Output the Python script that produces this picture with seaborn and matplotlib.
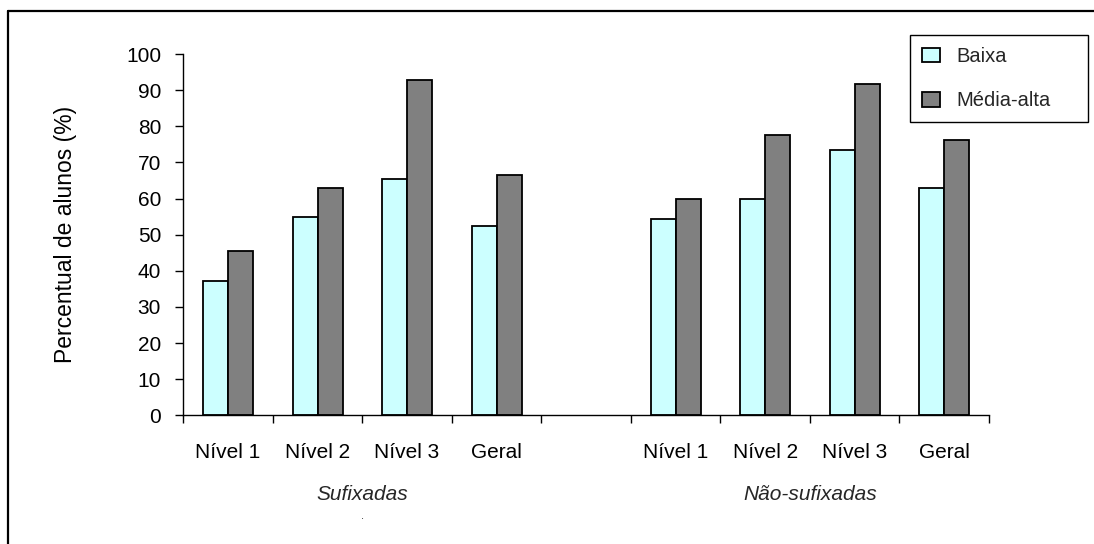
"""
Percentual de alunos por nível - palavras sufixadas e não-sufixadas.
"""

import numpy as np
import pandas as pd
import matplotlib.pyplot as plt
from matplotlib.lines import Line2D
import seaborn as sns

# --- data -------------------------------------------------------------
levels = ["Nível 1", "Nível 2", "Nível 3", "Geral"]
groups = ["Sufixadas", "Não-sufixadas"]
series = ["Baixa", "Média-alta"]

suf_baixa = [37.3, 54.9, 65.3, 52.4]
suf_media = [45.4, 62.9, 92.8, 66.6]
nao_baixa = [54.2, 60.0, 73.4, 62.9]
nao_media = [60.0, 77.7, 91.6, 76.3]

colors = {"Baixa": "#CCFFFF", "Média-alta": "#808080"}

# long-form table; one blank slot between the two groups
rows = []
for grp, b_vals, m_vals in [(groups[0], suf_baixa, suf_media),
                            (groups[1], nao_baixa, nao_media)]:
    for lvl, b, m in zip(levels, b_vals, m_vals):
        key = f"{grp}|{lvl}"
        rows.append({"slot": key, "serie": series[0], "valor": b})
        rows.append({"slot": key, "serie": series[1], "valor": m})
df = pd.DataFrame(rows)

order = [f"{groups[0]}|{l}" for l in levels] + ["gap"] + [f"{groups[1]}|{l}" for l in levels]
tick_text = levels + [""] + levels

# --- plot -------------------------------------------------------------
sns.set_theme(style="white")
plt.rcParams["font.family"] = ["Liberation Sans", "DejaVu Sans"]
plt.rcParams["font.size"] = 15

fig = plt.figure(figsize=(10.94, 5.44), dpi=100)
ax = fig.add_axes([183.3 / 1094, 1 - 415.3 / 544, (989 - 183.3) / 1094, (415.3 - 54) / 544])

sns.barplot(data=df, x="slot", y="valor", hue="serie", order=order,
            hue_order=series, palette=colors, width=0.56,
            edgecolor="black", linewidth=1.3, saturation=1, ax=ax)

ax.set_ylim(0, 100)
ax.set_xlim(-0.5, len(order) - 0.5)
ax.set_yticks(np.arange(0, 101, 10))
ax.tick_params(axis="y", direction="out", length=6, width=1, color="black",
               labelcolor="black", labelsize=15, pad=10, left=True)

# boundary ticks (major) and centred labels (minor)
ax.set_xticks(np.arange(-0.5, len(order), 1.0))
ax.set_xticklabels([])
ax.set_xticks(np.arange(len(order)), minor=True)
ax.set_xticklabels(tick_text, minor=True)
ax.tick_params(axis="x", which="major", direction="out", length=6, width=1,
               color="black", bottom=True)
ax.tick_params(axis="x", which="minor", length=0, pad=20, labelsize=15,
               labelcolor="black")

for side in ["top", "right"]:
    ax.spines[side].set_visible(False)
for side in ["left", "bottom"]:
    ax.spines[side].set_color("black")
    ax.spines[side].set_linewidth(1.0)

ax.set_xlabel("")
ax.set_ylabel("Percentual de alunos (%)", fontsize=16.5, color="black")
ax.yaxis.set_label_coords(-0.132, 0.5)

# group labels
ax.text(1.5, -0.22, groups[0], transform=ax.get_xaxis_transform(),
        ha="center", va="center", style="italic", fontsize=15)
ax.text(6.5, -0.22, groups[1], transform=ax.get_xaxis_transform(),
        ha="center", va="center", style="italic", fontsize=15)
ax.text(1.5, -0.28, ".", transform=ax.get_xaxis_transform(),
        ha="center", va="center", fontsize=8)

# legend, stretched to the width of the original box
handles, labels = ax.get_legend_handles_labels()
ax.legend(handles, labels, loc="upper left", mode="expand",
          bbox_to_anchor=(910 / 1094, 1 - 35 / 544, 178 / 1094, 0.0),
          bbox_transform=fig.transFigure,
          frameon=True, fancybox=False, edgecolor="black", framealpha=1,
          fontsize=14.5, handlelength=0.9, handleheight=0.75, handletextpad=0.8,
          labelspacing=1.25, borderpad=0.6, borderaxespad=0)
ax.get_legend().get_frame().set_linewidth(1.0)

# outer chart border (only top and left edges fall inside the image)
x0, y0 = 8 / 1094, 1 - 11 / 544
fig.add_artist(Line2D([x0, x0], [0, y0], transform=fig.transFigure, color="black", lw=1.6))
fig.add_artist(Line2D([x0, 1], [y0, y0], transform=fig.transFigure, color="black", lw=1.6))

plt.savefig("out.png", dpi=100)
plt.close()
